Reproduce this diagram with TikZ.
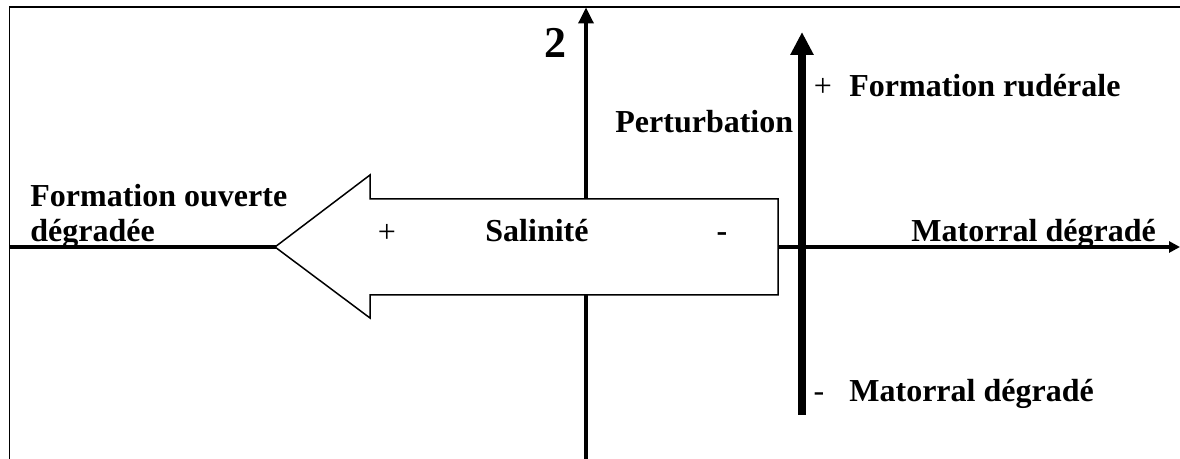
\documentclass[tikz,border=0pt]{standalone}
\usepackage{fontspec}
\setmainfont{Liberation Serif}
\usetikzlibrary{arrows.meta,positioning}
\tikzset{
  frameline/.style={line width=0.75pt},
  axisline/.style={-{Triangle[length=8pt,width=7.5pt]},line width=1.7pt},
  endarrow/.style={-{Triangle[length=5.5pt,width=5.5pt]},line width=1.7pt},
  pertarrow/.style={-{Triangle[length=11.5pt,width=11pt]},line width=4pt},
  blockarrow/.style={draw,fill=white,line width=0.75pt,line join=miter},
  lbl/.style={font=\fontsize{16}{17.5}\selectfont\bfseries,inner sep=0pt},
  sign/.style={font=\fontsize{16}{17.5}\selectfont,inner sep=0pt},
}

\begin{document}
\begin{tikzpicture}[x=0.5pt,y=-0.5pt]
  \useasboundingbox (0,0) rectangle (1180,459);
  % frame
  \coordinate (fbl) at (9.5,459);
  \coordinate (ftl) at (9.5,7);
  \coordinate (ftr) at (1180,7);
  \draw[frameline] (fbl) -- (ftl) -- (ftr);
  % axes
  \coordinate (hl) at (9,247);
  \coordinate (hr) at (1180,247);
  \coordinate (vb) at (586,459);
  \coordinate (vt) at (586,7.5);
  \draw[endarrow] (hl) -- (hr);
  \draw[axisline] (vb) -- (vt);
  % salinity block arrow
  \draw[blockarrow] (275,247) -- (370,175) -- (370,199) -- (778,199)
    -- (778,295) -- (370,295) -- (370,318) -- cycle;
  % perturbation
  \coordinate (pb) at (802,415);
  \coordinate (pt) at (802,32);
  \draw[pertarrow] (pb) -- (pt);
  % labels
  \node[lbl,font=\fontsize{22}{24}\selectfont\bfseries,anchor=base] (two) at (555,58) {2};
  \node[lbl,anchor=base west] (pert) at (615,133) {Perturbation};
  \node[sign,anchor=base] (pplus) at (823,97) {+};
  \node[lbl,anchor=base west] (rud) at (849,97) {Formation rudérale};
  \node[lbl,anchor=base west] (mat) at (911,242) {Matorral dégradé};
  \node[sign,anchor=base] (pminus) at (819,402) {-};
  \node[lbl,anchor=base west] (matlow) at (849,402) {Matorral dégradé};
  \node[lbl,anchor=base west] (ouv1) at (30,207) {Formation ouverte};
  \node[lbl,anchor=base west] (ouv2) at (30,242) {dégradée};
  \node[sign,anchor=base] (splus) at (387,243) {+};
  \node[lbl,anchor=base] (sal) at (537,242) {Salinité};
  \node[lbl,anchor=base] (sminus) at (722,242) {-};
\end{tikzpicture}
\end{document}
